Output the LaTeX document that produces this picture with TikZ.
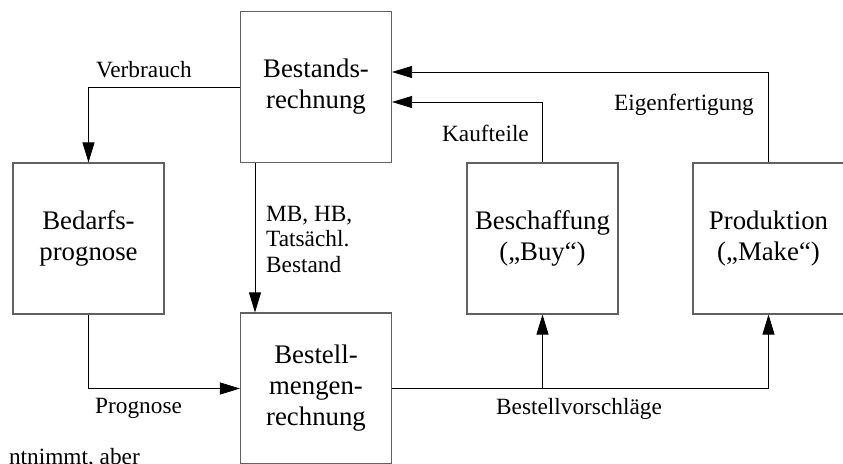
\documentclass[tikz,border=0pt]{standalone}
\usepackage{fontspec}
\setmainfont{Liberation Serif}
\usetikzlibrary{arrows.meta}
\begin{document}
\begin{tikzpicture}[x=1pt,y=-1pt,
  box/.style={draw=black!62, line width=1.1pt, minimum width=151pt, minimum height=151pt,
    inner sep=0pt, align=center, font=\fontsize{26.8}{31}\selectfont},
  lbl/.style={inner sep=0pt, font=\fontsize{23.3}{25.5}\selectfont},
  arr/.style={draw=black, line width=0.8pt, -{Triangle[length=20pt,width=12pt]}},
  link/.style={draw=black, line width=0.8pt}]
\useasboundingbox (0,0) rectangle (843,463);
\clip (0,0) rectangle (843,463);

% process boxes
\node[box] (bestand)  at (316,87)     {Bestands-\\rechnung};
\node[box] (bedarf)   at (88.5,238.5) {Bedarfs-\\prognose};
\node[box] (bestell)  at (316,388.5)  {Bestell-\\mengen-\\rechnung};
\node[box] (beschaff) at (542.5,238.5){Beschaffung\\(„Buy“)};
\node[box] (prod)     at (768.5,238.5){Produktion\\(„Make“)};

% flows
\draw[arr] (bestand.west) -| (bedarf.north);
\draw[arr] (bedarf.south) |- (bestell.west);
\draw[arr] ([xshift=-61pt]bestand.south) -- ([xshift=-61pt]bestell.north);
\draw[arr] (bestell.east) -| (prod.south);
\draw[arr] (beschaff.south |- bestell.east) -- (beschaff.south);
\draw[arr] (beschaff.north) |- ([yshift=-15pt]bestand.east);
\draw[arr] (prod.north) |- ([yshift=15pt]bestand.east);

% labels
\node[lbl, anchor=base] (lverb) at (144,77) {Verbrauch};
\node[lbl, anchor=base west] (lprog) at (95,413) {Prognose};
\node[lbl, anchor=north west, align=left] (lmb) at (266,206) {MB, HB,\\Tatsächl.\\Bestand};
\node[lbl, anchor=base east] (lkauf) at (529,141) {Kaufteile};
\node[lbl, anchor=base east] (leigen) at (754,110) {Eigenfertigung};
\node[lbl, anchor=base] (lvor) at (579,414) {Bestellvorschläge};
\node[lbl, anchor=base east] (lnote) at (140,464) {ntnimmt, aber};
\end{tikzpicture}
\end{document}
